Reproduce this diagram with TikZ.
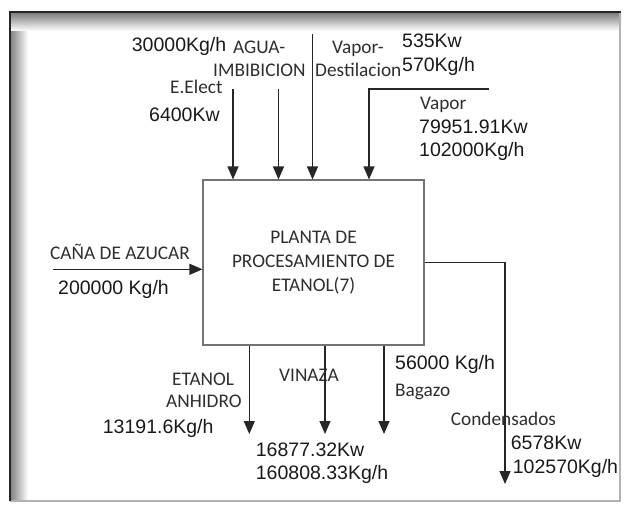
\documentclass[tikz,border=0pt]{standalone}
\usepackage{fontspec}
\usepackage{xcolor}
\usepackage{tikz}
\newfontfamily\arialfont{Liberation Sans}
\newfontfamily\calibfont{Carlito}
\usetikzlibrary{arrows.meta}

\begin{document}
\begin{tikzpicture}[
      x=1pt, y=-1pt,
      num/.style={font=\arialfont\fontsize{19.5}{23.7}\selectfont, inner sep=0pt, anchor=base west, text=black!90},
      lbl/.style={font=\calibfont\fontsize{19.3}{23.7}\selectfont, inner sep=0pt, anchor=base west, text=black!82},
      plantbox/.style={draw=black!55, line width=1.1pt, minimum width=221pt, minimum height=165pt, align=center, font=\calibfont\fontsize{19.3}{23.7}\selectfont, text=black!82},
      arr/.style={-{Triangle[length=13pt, width=11pt]}, line width=1.2pt, black!85}
    ]
    \useasboundingbox (0,0) rectangle (624,505);
    %% frame
    \fill[left color=black!50, right color=white] (10,13) rectangle (28,500);
    \fill[top color=black!50, bottom color=white] (10,13) rectangle (621,31);
    \draw[line width=2pt, black!30] (620,12) -- (620,501) -- (10,501);
    \draw[line width=2pt, black!85] (621,12) -- (10,12) -- (10,501);
    %% plant
    \node[plantbox] (plant) at (313.5,262.5) {PLANTA DE\\PROCESAMIENTO DE\\ETANOL(7)};
    %% inputs top
    \coordinate (elec) at (233,89);
    \coordinate (agua) at (278.5,89);
    \coordinate (vdest) at (312.5,34);
    \coordinate (vap) at (489,89);
    \coordinate (vapturn) at (369,89);
    \draw[arr] (elec) -- (elec |- plant.north);
    \draw[arr] (agua) -- (agua |- plant.north);
    \draw[arr] (vdest) -- (vdest |- plant.north);
    \draw[arr] (vap) -- (vapturn) -- (vapturn |- plant.north);
    \node[num] (aguaflow) at (131.7,52) {30000Kg/h};
    \node[lbl] (aguaname) at (233,54) {AGUA-};
    \node[lbl] (aguaname2) at (213,77) {IMBIBICION};
    \node[lbl] (elecname) at (170,94) {E.Elect};
    \node[num] (eleckw) at (149,121.5) {6400Kw};
    \node[lbl] (vdestname) at (332,53.5) {Vapor-};
    \node[lbl] (vdestname2) at (315,77) {Destilacion};
    \node[num] (vdestkw) at (402,48) {535Kw};
    \node[num] (vdestflow) at (402,72) {570Kg/h};
    \node[lbl] (vapname) at (420,109.3) {Vapor};
    \node[num] (vapkw) at (419,133.5) {79951.91Kw};
    \node[num] (vapflow) at (419,156.5) {102000Kg/h};
    %% input left
    \coordinate (cana) at (52.7,269.3);
    \draw[arr] (cana) -- (cana -| plant.west);
    \node[lbl] (cananame) at (50,260) {CAÑA DE AZUCAR};
    \node[num] (canaflow) at (58,294.5) {200000 Kg/h};
    %% outputs bottom
    \coordinate (etanol) at (249.3,434);
    \coordinate (vinaza) at (325,434);
    \coordinate (bagazo) at (384,434);
    \draw[arr] (etanol |- plant.south) -- (etanol);
    \draw[arr] (vinaza |- plant.south) -- (vinaza);
    \draw[arr] (bagazo |- plant.south) -- (bagazo);
    \node[lbl] (etanolname) at (172,385.7) {ETANOL};
    \node[lbl] (etanolname2) at (166,407.7) {ANHIDRO};
    \node[num] (etanolflow) at (102.7,433.5) {13191.6Kg/h};
    \node[lbl] (vinazaname) at (279,381.7) {VINAZA};
    \node[num] (vinazakw) at (255.7,456.5) {16877.32Kw};
    \node[num] (vinazaflow) at (255.7,479.5) {160808.33Kg/h};
    \node[num] (bagazoflow) at (395,369.5) {56000 Kg/h};
    \node[lbl] (bagazoname) at (395,396.7) {Bagazo};
    %% output right
    \coordinate (cond) at (505,484);
    \draw[arr] (plant.east) -| (cond);
    \node[lbl] (condname) at (450.7,425) {Condensados};
    \node[num] (condkw) at (510.7,449.5) {6578Kw};
    \node[num] (condflow) at (512.7,473) {102570Kg/h};
  \end{tikzpicture}
\end{document}
